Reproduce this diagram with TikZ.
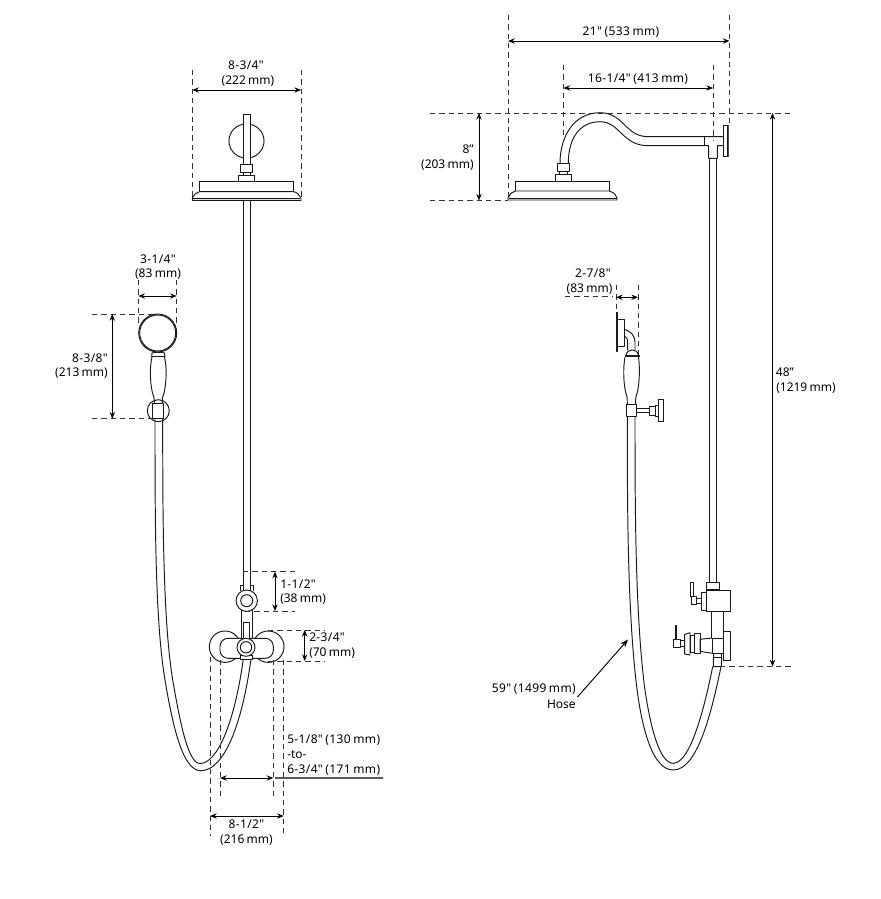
\documentclass[tikz,border=0pt]{standalone}
\usepackage{fontspec}
\setmainfont[WordSpace=0.75]{Noto Sans}
\newfontfamily\fracfont[WordSpace=0.75,LetterSpace=3]{Noto Sans}
\usetikzlibrary{arrows.meta}
\tikzset{
  x=0.75pt,y=-0.75pt,
  part/.style={draw=black!90,line width=0.72pt,line join=round},
  hid/.style={part,fill=white},
  dimdash/.style={draw=black!80,line width=0.7pt,dash pattern=on 4pt off 3pt},
  dimarrow/.style={draw=black,line width=0.7pt,{Stealth[length=5pt,width=4pt]}-{Stealth[length=5pt,width=4pt]}},
  leader/.style={draw=black,line width=0.7pt,-{Stealth[length=6pt,width=4.5pt]}},
  lab/.style={inner sep=0pt,font=\fontsize{9pt}{11pt}\selectfont,text=black},
  labf/.style={inner sep=0pt,font=\fracfont\fontsize{9pt}{11pt}\selectfont,text=black},
}
\begin{document}
\begin{tikzpicture}
\useasboundingbox (0,0) rectangle (881,899);
% ============ LEFT VIEW ============
% dimension lines
\draw[dimdash] (192.3,70)--(192.3,200) (301,70)--(301,200);
\draw[dimarrow] (192.3,90)--(301,90);
\node[labf] (t1a) at (246,65) {8-3/4"};
\node[lab] (t1b) at (248,81) {(222 mm)};
% wall flange and stem
\draw[part] (243,124.3) arc[start angle=260,end angle=100,radius=17];
\draw[part] (250,124.3) arc[start angle=280,end angle=440,radius=17];
\draw[part] (243,164)--(243,114)--(250,114)--(250,164);
\draw[part] (240.7,164) rectangle (252.7,172);
\draw[part] (243,172)--(243,175) (250,172)--(250,175);
\draw[part] (238.7,175) rectangle (254.7,181.7);
% rain head
\draw[part] (199.3,191.7)--(199.3,181.7)--(293.7,181.7)--(293.7,191.7);
\draw[part] (192.3,200.3)--(192.3,198) .. controls (194,195) and (196,192) .. (199.5,191.7)--(293.5,191.7) .. controls (297,192) and (299,195) .. (301,198)--(301,200.3)--cycle;
\draw[part] (193,198.3)--(300.3,198.3);
% riser
\draw[part] (243.3,200.3)--(243.3,591) (250.5,200.3)--(250.5,591);
% hand shower dims
\draw[dimdash] (138.3,280)--(138.3,325) (176.7,280)--(176.7,325);
\draw[dimarrow] (138.3,296)--(176.7,296);
\node[labf] (t2a) at (158,259) {3-1/4"};
\node[lab] (t2b) at (158,274.5) {(83 mm)};
\draw[dimdash] (92,314)--(156,314) (92,418.7)--(150,418.7);
\draw[dimarrow] (112.3,314)--(112.3,418.7);
\node[labf] (t3a) at (90,358) {8-3/8"};
\node[lab] (t3b) at (81.5,373.5) {(213 mm)};
% hand shower
\draw[part] (157.7,333) circle[radius=19];
\draw[part] (157.7,333) circle[radius=18];
\draw[part] (151.7,356.5)--(152,353) .. controls (154,352) and (161,352) .. (164.5,353)--(165,356.5)--cycle;
\draw[part] (152,357) .. controls (149.5,368) and (150,382) .. (152.5,393) .. controls (154,396) and (154.3,398) .. (154.3,403);
\draw[part] (164.5,357) .. controls (167,368) and (166.5,382) .. (164,393) .. controls (162.5,396) and (162.3,398) .. (162.3,403);
\draw[part] (152.7,403) rectangle (163.3,418);
\draw[part] (158.3,410.7) circle[radius=11];
% hose
\draw[part] (155,418) .. controls (155,520) and (155,620) .. (165,680) .. controls (173,728) and (183,770.7) .. (200.7,770.7) .. controls (224,770.7) and (242,725) .. (251,659);
\draw[part] (162.7,418) .. controls (162.7,520) and (163,620) .. (172.7,680) .. controls (180,722) and (188,763.5) .. (200,763.5) .. controls (218,763.5) and (235,720) .. (243.3,659);
% mixer
\draw[hid] (240.7,591)--(240.7,585)--(243.3,585) (253.3,591)--(253.3,585)--(250.5,585);
\draw[part] (241,610)--(241,640) (252.3,610)--(252.3,640);
\draw[hid] (225,646.7) circle[radius=15.7];
\draw[hid] (268.3,646.7) circle[radius=15.7];
\draw[hid,rounded corners=6pt] (220,638.3) rectangle (273.3,658.3);
\draw[hid] (240.7,655) rectangle (252.3,659);
\draw[hid] (243.3,640)--(243.3,622)--(249.3,622)--(249.3,640);
\draw[hid] (246,647.3) circle[radius=9];
\draw[part] (246,647.3) circle[radius=5.7];
\draw[hid] (246.7,600.7) circle[radius=10.7];
\draw[part] (246.7,600.7) circle[radius=6];
% mixer dims
\draw[dimdash] (243,571.7)--(295,571.7) (245,611)--(295,611);
\draw[dimarrow] (275,571.7)--(275,611);
\node[labf,anchor=west] (t4a) at (280,584) {1-1/2"};
\node[lab,anchor=west] (t4b) at (280,599.5) {(38 mm)};
\draw[dimdash] (268,630)--(325,630) (268,661)--(325,661);
\draw[dimarrow] (304.7,630)--(304.7,661);
\node[labf,anchor=west] (t5a) at (309,637) {2-3/4"};
\node[lab,anchor=west] (t5b) at (309,653) {(70 mm)};
\draw[dimdash] (210,657)--(210,836) (220,660)--(220,798) (273.3,660)--(273.3,798) (283.7,660)--(283.7,836);
\draw[dimarrow] (220,778)--(273.3,778);
\draw[draw=black!65,line width=1pt] (275,778)--(383,778);
\draw[dimarrow] (210,816)--(283.7,816);
\node[labf] (t6a) at (246.5,824.5) {8-1/2"};
\node[lab] (t6b) at (246.5,840) {(216 mm)};
\node[labf,anchor=west] (t7a) at (287,740) {5-1/8" (130 mm)};
\node[lab,anchor=west] (t7b) at (287,755) {-to-};
\node[labf,anchor=west] (t7c) at (287,770) {6-3/4" (171 mm)};
% ============ RIGHT VIEW ============
\draw[dimdash] (430,113)--(793,113) (430,200.5)--(508,200.5);
\draw[dimdash] (508,15)--(508,200) (563.5,65)--(563.5,135) (713,65)--(713,140) (729.5,15)--(729.5,124);
\draw[dimarrow] (508,41)--(729.5,41);
\node[labf] (t8) at (621,32) {21" (533 mm)};
\draw[dimarrow] (563.5,88)--(713,88);
\node[labf] (t9) at (638,79) {16-1/4" (413 mm)};
\draw[dimarrow] (479,113)--(479,200.5);
\node[lab,anchor=east] (t10a) at (474,149.5) {8"};
\node[lab,anchor=east] (t10b) at (474,165) {(203 mm)};
% head
\draw[part] (515.3,191)--(515.3,181.7)--(609.7,181.7)--(609.7,191);
\draw[part] (508,200)--(508,198) .. controls (510,194) and (512,191.3) .. (515.5,191)--(609.5,191) .. controls (613,191.3) and (615,194) .. (617,198)--(617,200)--cycle;
\draw[part] (508.5,198.3)--(616.5,198.3);
\draw[part] (555.7,174.3) rectangle (571,181.7);
\draw[part] (559.3,171.7)--(559.3,174.3) (567.3,171.7)--(567.3,174.3);
\draw[part] (557.3,163.3) rectangle (569.3,171.7);
% arm
\draw[part] (560,163.3) .. controls (560,135) and (575,112.7) .. (600,112.7) .. controls (624,112.7) and (625,136.7) .. (648.3,136.7) -- (723.3,136.7);
\draw[part] (568.3,163.3) .. controls (568.3,138) and (580,121.7) .. (600,121.7) .. controls (620,121.7) and (622,145.7) .. (648.3,145.7) -- (708.7,145.7) -- (708.7,158.3) -- (717.3,158.3) -- (717.3,145.7) -- (723.3,145.7);
\draw[part] (704.3,136.7)--(704.3,145.7);
\draw[part] (723.8,125) rectangle (727.7,156.7);
\draw[draw=black!70,line width=1.2pt] (728.6,125)--(728.6,156.7);
% riser
\draw[part] (709.7,158.3)--(709.7,582.7) (716.7,158.3)--(716.7,582.7);
% hand shower dims
\node[labf] (t11a) at (593,273.5) {2-7/8"};
\node[lab] (t11b) at (589.5,289) {(83 mm)};
\draw[dimdash] (565,296.5)--(612,296.5);
\draw[dimdash] (616,285)--(616,312) (638,285)--(638,356);
\draw[dimarrow] (616,297.3)--(638,297.3);
% hand shower side
\draw[part] (616,312.5) rectangle (617.4,351.7);
\draw[part] (617.4,319) rectangle (624.3,346.7);
\draw[part] (624.3,329.3) .. controls (630,331) and (635,335) .. (635,342)--(635,350);
\draw[part] (624.3,336) .. controls (627,337) and (627.7,339) .. (627.7,342)--(627.7,350);
\draw[part] (626,355) .. controls (627,351) and (630,350) .. (632,350) .. controls (635,350) and (637.5,351) .. (638.3,355);
\draw[part] (625,355) rectangle (639,356.7);
\draw[part] (625,357) .. controls (623,368) and (623.5,382) .. (625.5,391.7) .. controls (627,395) and (627.3,398) .. (627.3,404);
\draw[part] (638.5,357) .. controls (640,368) and (639.5,382) .. (637.5,391.7) .. controls (636,395) and (635.5,398) .. (635.5,404);
\draw[part] (626,404) rectangle (636,416);
\draw[part] (636,408.3)--(649.3,408.3) (636,412.3)--(649.3,412.3);
\draw[part] (649.3,406) rectangle (655,415);
\draw[part] (655,405) rectangle (658.3,416.7);
\draw[part] (658.3,399.3) rectangle (663.3,421.7);
% hose
\draw[part] (627.3,416) .. controls (627.3,500) and (627.3,610) .. (636.7,686.7) .. controls (642,730) and (653,770) .. (673.3,770) .. controls (697,770) and (711,715) .. (721,666.7);
\draw[part] (635,416) .. controls (635,500) and (635,610) .. (644.5,686.7) .. controls (650,725) and (659,763.3) .. (673.3,763.3) .. controls (690,763.3) and (704,710) .. (712.7,666.7);
% diverter upper
\draw[part] (706.7,582.7) rectangle (719.3,589.3);
\draw[part] (706.7,590.7) rectangle (730,611.3);
\draw[part] (701.7,592.7) rectangle (706,610);
\draw[part] (696.7,598.3) rectangle (701.7,603.3);
\draw[part] (691.3,596.7) rectangle (696.7,604.7);
\draw[part] (690.7,582) rectangle (693,596.7);
% valve lower
\draw[part] (711.7,611.3)--(711.7,638.3) (723.3,611.3)--(723.3,638.3);
\draw[part] (723.3,631) rectangle (730,660.7);
\draw[part] (712.3,638.3) rectangle (723.3,653.3);
\draw[part] (712.3,638)--(700,639.3)--(700,651.3)--(712.3,653.3);
\draw[part] (694.3,633.3) rectangle (700,653.3);
\draw[part] (690,635.7) rectangle (694.3,652.3);
\draw[part] (684.7,634.5)--(690,632.7)--(690,655)--(684.7,654)--cycle;
\draw[part] (680,640.7) rectangle (684.7,646);
\draw[part] (673.7,639.3) rectangle (680,647.7);
\draw[part] (675.3,625.3) rectangle (676.7,639.3);
\draw[part] (713.3,653.3) rectangle (721.7,657.3);
\draw[part] (713.3,657.3)--(713.3,666.7)--(721.3,666.7)--(721.7,657.3);
% height dim
\draw[dimdash] (720,666.5)--(793,666.5);
\draw[dimarrow] (772.5,113)--(772.5,666.5);
\node[lab] (t12a) at (785,372) {48"};
\node[lab] (t12b) at (806,388) {(1219 mm)};
% hose label
\node[labf,anchor=east] (t13a) at (576,689) {59" (1499 mm)};
\node[lab,anchor=east] (t13b) at (576,704) {Hose};
\coordinate (hosetip) at (628,639.5);
\draw[leader] (577.5,697)--(hosetip);
\end{tikzpicture}
\end{document}
